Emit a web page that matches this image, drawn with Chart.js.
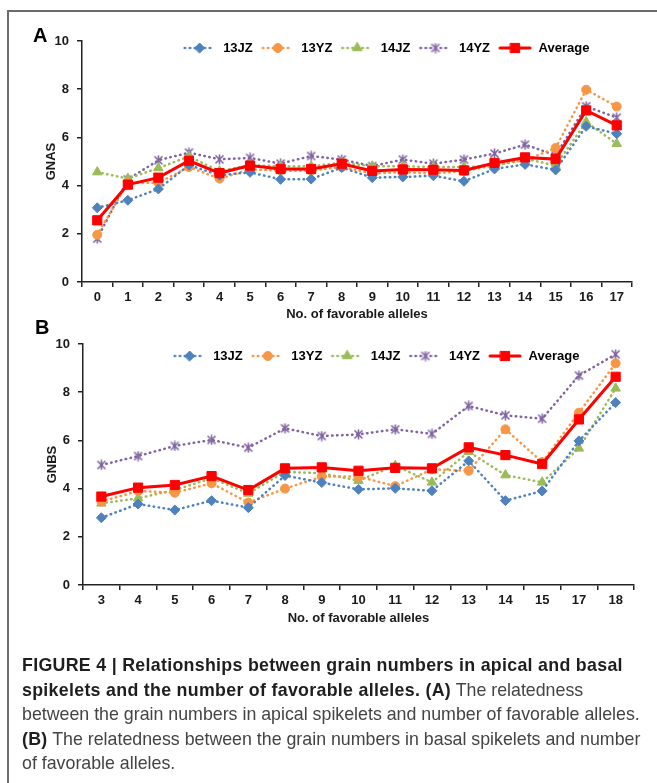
<!DOCTYPE html>
<html>
<head>
<meta charset="utf-8">
<script src="https://cdn.jsdelivr.net/npm/chart.js@4.4.1/dist/chart.umd.min.js"></script>
<style>
body { margin:0; background:#fff; }
#page { position:relative; width:657px; height:783px; overflow:hidden; font-family:"Liberation Sans", Arial, sans-serif; }
#frame { position:absolute; left:7px; top:10px; width:700px; height:800px; border-top:2px solid #6b6b6b; border-left:2px solid #6b6b6b; }
.panel { position:absolute; font-weight:bold; font-size:20px; line-height:20px; color:#000; }
canvas { position:absolute; left:0; }
#caption { position:absolute; left:22px; top:653px; font-size:17.8px; line-height:24.5px; color:#444; white-space:nowrap; }
#caption b { color:#1e1e1e; letter-spacing:0.3px; }
</style>
</head>
<body>
<div id="page">
  <div id="frame"></div>
  <canvas id="chartA" width="657" height="325" style="top:0"></canvas>
  <canvas id="chartB" width="657" height="330" style="top:325px"></canvas>
  <div class="panel" style="left:33px;top:25px">A</div>
  <div class="panel" style="left:35px;top:317px">B</div>
  <div id="caption">
    <b>FIGURE 4 | Relationships between grain numbers in apical and basal</b><br>
    <b>spikelets and the number of favorable alleles. (A)</b> The relatedness<br>
    between the grain numbers in apical spikelets and number of favorable alleles.<br>
    <b>(B)</b> The relatedness between the grain numbers in basal spikelets and number<br>
    of favorable alleles.
  </div>
</div>
<script>
// series names and categories
const seriesNames = ['13JZ', '13YZ', '14JZ', '14YZ', 'Average'];
const labelsA = ['0','1','2','3','4','5','6','7','8','9','10','11','12','13','14','15','16','17'];
const labelsB = ['3','4','5','6','7','8','9','10','11','12','13','14','15','17','18'];
const yTicks = [0, 2, 4, 6, 8, 10];

// panel A: GNAS
const a13JZ = [3.08, 3.39, 3.86, 4.85, 4.43, 4.55, 4.26, 4.27, 4.75, 4.33, 4.36, 4.41, 4.18, 4.69, 4.88, 4.65, 6.46, 6.15];
const a13YZ = [1.96, 4.12, 4.12, 4.77, 4.29, 4.67, 4.62, 4.62, 4.77, 4.50, 4.56, 4.50, 4.60, 4.85, 5.05, 5.56, 7.98, 7.28];
const a14JZ = [4.56, 4.29, 4.73, 5.21, 4.60, 4.85, 4.80, 4.80, 4.95, 4.80, 4.80, 4.77, 4.77, 4.81, 5.12, 4.83, 6.64, 5.74];
const a14YZ = [1.80, 4.26, 5.05, 5.37, 5.09, 5.15, 4.91, 5.23, 5.08, 4.81, 5.08, 4.91, 5.08, 5.33, 5.70, 5.26, 7.29, 6.82];
const aAvg  = [2.56, 4.04, 4.33, 5.03, 4.52, 4.83, 4.69, 4.69, 4.91, 4.61, 4.67, 4.66, 4.63, 4.94, 5.17, 5.10, 7.12, 6.50];

// panel B: GNBS
const b13JZ = [2.79, 3.36, 3.11, 3.50, 3.21, 4.54, 4.25, 3.97, 4.01, 3.91, 5.15, 3.50, 3.90, 5.98, 7.57];
const b13YZ = [3.46, 3.90, 3.83, 4.22, 3.42, 4.00, 4.50, 4.50, 4.10, 4.80, 4.74, 6.46, 5.10, 7.15, 9.20];
const b14JZ = [3.39, 3.60, 3.94, 4.43, 3.80, 4.70, 4.63, 4.33, 4.95, 4.26, 5.53, 4.56, 4.26, 5.67, 8.16];
const b14YZ = [4.98, 5.35, 5.77, 6.02, 5.70, 6.50, 6.18, 6.25, 6.46, 6.27, 7.43, 7.04, 6.90, 8.69, 9.57];
const bAvg  = [3.67, 4.04, 4.15, 4.52, 3.94, 4.84, 4.88, 4.74, 4.86, 4.84, 5.71, 5.39, 5.02, 6.87, 8.64];

const colors = ['#4F81BD', '#F79646', '#9BBB59', '#8064A2', '#FF0000'];
const FONT = '"Liberation Sans", Arial, sans-serif';

Chart.defaults.font.family = FONT;
Chart.defaults.font.size = 13;
Chart.defaults.font.weight = 'bold';
Chart.defaults.color = '#1a1a1a';

// excel style star marker (x with a vertical bar)
function starMark(color)
{
    const c = document.createElement('canvas');
    c.width = 11; c.height = 11;
    const g = c.getContext('2d');
    g.strokeStyle = color;
    g.lineWidth = 1.6;
    g.beginPath();
    g.moveTo(1.5, 1.5); g.lineTo(9.5, 9.5);
    g.moveTo(9.5, 1.5); g.lineTo(1.5, 9.5);
    g.moveTo(5.5, 0.5); g.lineTo(5.5, 10.5);
    g.stroke();
    return c;
}

const markerStyles = ['rectRot', 'circle', 'triangle', starMark(colors[3]), 'rect'];
const markerRadius = [5, 4.5, 5.5, 5, 6.5];

function drawMarker(g, style, x, y, r, color)
{
    g.fillStyle = color;
    g.strokeStyle = color;
    g.lineWidth = 1;
    if (style instanceof HTMLCanvasElement) {
        g.drawImage(style, x - style.width / 2, y - style.height / 2);
        return;
    }
    g.beginPath();
    if (style == 'rectRot') {
        g.moveTo(x - r, y); g.lineTo(x, y - r); g.lineTo(x + r, y); g.lineTo(x, y + r); g.closePath();
    } else if (style == 'circle') {
        g.arc(x, y, r, 0, Math.PI * 2);
    } else if (style == 'triangle') {
        for (let k = 0; k < 3; k++) {
            const ang = k * 2 * Math.PI / 3;
            const px = x + Math.sin(ang) * r, py = y - Math.cos(ang) * r;
            if (k == 0) g.moveTo(px, py); else g.lineTo(px, py);
        }
        g.closePath();
    } else {
        const s = r * Math.SQRT1_2;
        g.rect(x - s, y - s, 2 * s, 2 * s);
    }
    g.fill();
    g.stroke();
}

// line + marker picture for the legend
function legendSample(i)
{
    const c = document.createElement('canvas');
    c.width = 34; c.height = 14;
    const g = c.getContext('2d');
    g.strokeStyle = colors[i];
    g.lineCap = 'round';
    if (i == 4) {
        g.lineWidth = 3;
    } else {
        g.lineWidth = 2.5;
        g.setLineDash([0.5, 4.5]);
    }
    g.beginPath(); g.moveTo(2, 7); g.lineTo(32, 7); g.stroke();
    g.setLineDash([]);
    drawMarker(g, markerStyles[i], 17, 7, markerRadius[i], colors[i]);
    return c;
}
const samples = seriesNames.map((n, i) => legendSample(i));

// moves the legend down into the plot area
const legendShift = {
    id: 'legendShift',
    afterLayout(chart, args, opts) {
        const lg = chart.legend;
        lg.top = opts.y;
        lg.bottom = opts.y + 30;
        lg.left = opts.cx - 300;
        lg.right = opts.cx + 300;
        lg.width = 600;
        lg.height = 30;
    }
};

function makeDatasets(values)
{
    return values.map((v, i) => ({
        label: seriesNames[i],
        data: v,
        borderColor: colors[i],
        backgroundColor: colors[i],
        borderWidth: i == 4 ? 3 : 2.5,
        borderDash: i == 4 ? [] : [0.5, 4.5],
        borderCapStyle: 'round',
        pointStyle: markerStyles[i],
        pointRadius: markerRadius[i],
        pointHoverRadius: markerRadius[i],
        pointBorderWidth: 1,
        pointBackgroundColor: colors[i],
        pointBorderColor: colors[i],
        tension: 0,
        order: i == 4 ? 0 : i + 1
    }));
}

function makeChart(id, labels, values, yTitle, lay)
{
    return new Chart(document.getElementById(id), {
        type: 'line',
        data: { labels: labels, datasets: makeDatasets(values) },
        plugins: [legendShift],
        options: {
            responsive: false,
            animation: false,
            devicePixelRatio: 1,
            layout: { padding: lay.padding },
            plugins: {
                tooltip: { enabled: false },
                legendShift: { y: lay.legendY, cx: lay.legendX },
                legend: {
                    position: 'top',
                    maxHeight: 1,
                    labels: {
                        usePointStyle: true,
                        pointStyleWidth: 34,
                        padding: 8,
                        font: { size: 13, weight: 'bold' },
                        generateLabels: (chart) => chart.data.datasets.map((ds, i) => ({
                            text: ds.label,
                            pointStyle: samples[i],
                            fillStyle: 'transparent',
                            strokeStyle: 'transparent',
                            lineWidth: 0,
                            hidden: false,
                            datasetIndex: i
                        }))
                    }
                }
            },
            scales: {
                x: {
                    type: 'category',
                    offset: true,
                    afterFit: (s) => { s.height = lay.xHeight; },
                    border: { color: '#222', width: 1.5 },
                    grid: { offset: true, drawOnChartArea: false, drawTicks: true, tickLength: 5, tickColor: '#222', lineWidth: 1.5 },
                    ticks: { padding: 3, maxRotation: 0, autoSkip: false, font: { size: 13, weight: 'bold' } },
                    title: { display: true, text: 'No. of favorable alleles', padding: 0, font: { size: 13, weight: 'bold' } }
                },
                y: {
                    min: 0,
                    max: 10,
                    afterFit: (s) => { s.width = lay.yWidth; },
                    afterBuildTicks: (s) => { s.ticks = yTicks.map(v => ({ value: v })); },
                    border: { color: '#222', width: 1.5 },
                    grid: { drawOnChartArea: false, drawTicks: true, tickLength: 5, tickColor: '#222', lineWidth: 1.5 },
                    ticks: { padding: 8, font: { size: 13, weight: 'bold' } },
                    title: { display: true, text: yTitle, padding: 0, font: { size: 13, weight: 'bold' } }
                }
            }
        }
    });
}

makeChart('chartA', labelsA, [a13JZ, a13YZ, a14JZ, a14YZ, aAvg], 'GNAS', {
    padding: { left: 44, right: 25, top: 40, bottom: 3 },
    yWidth: 38, xHeight: 40, legendY: 33.5, legendX: 386
});

makeChart('chartB', labelsB, [b13JZ, b13YZ, b14JZ, b14YZ, bAvg], 'GNBS', {
    padding: { left: 45, right: 23, top: 18, bottom: 29 },
    yWidth: 38, xHeight: 41, legendY: 16.5, legendX: 376
});
</script>
</body>
</html>
